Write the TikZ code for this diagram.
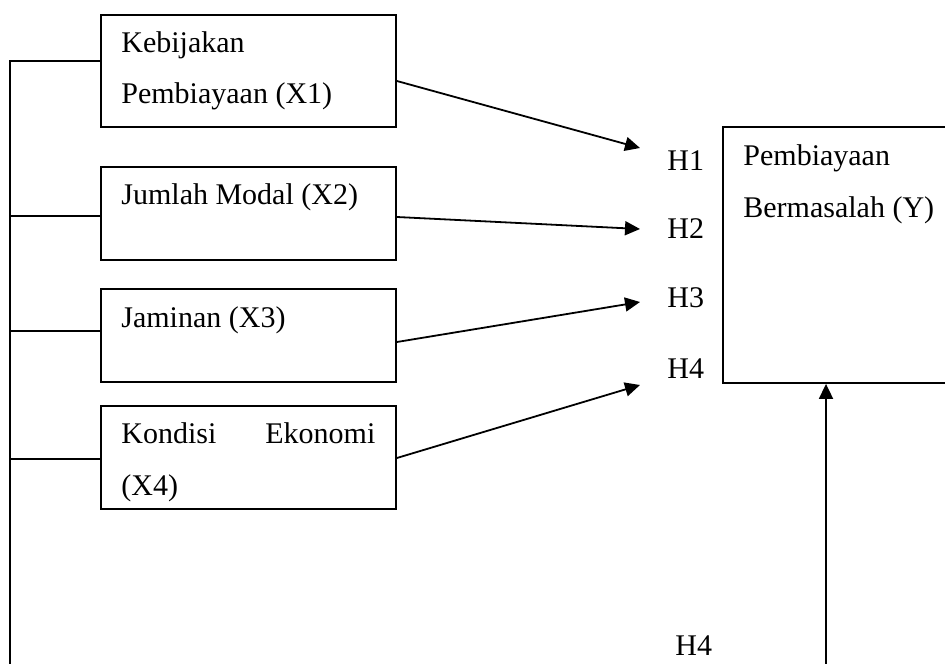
\documentclass[tikz,border=0pt]{standalone}
\usepackage{fontspec}
\setmainfont{Liberation Serif}
\usetikzlibrary{arrows.meta}
\begin{document}
\begin{tikzpicture}[x=0.5pt,y=-0.5pt,
  varbox/.style={draw,line width=0.9pt,rectangle,inner sep=0pt,minimum width=147.5pt},
  lbl/.style={anchor=base west,inner sep=0pt,font=\fontsize{15pt}{18pt}\selectfont},
  conn/.style={line width=0.9pt},
  arr/.style={line width=0.9pt,-{Triangle[length=7.5pt,width=7pt]}}]
\useasboundingbox (0,0) rectangle (945,663);
\clip (0,0) rectangle (945,663);
% boxes
\node[varbox,minimum height=56pt] (x1) at (248.5,71) {};
\node[varbox,minimum height=46.5pt] (x2) at (248.5,213.5) {};
\node[varbox,minimum height=46.5pt] (x3) at (248.5,335.5) {};
\node[varbox,minimum height=51.5pt] (x4) at (248.5,457.5) {};
\node[draw,line width=0.9pt,rectangle,inner sep=0pt,minimum width=118.5pt,minimum height=128pt] (y) at (841.5,255) {};
% texts
\node[lbl] (t1a) at (121,53) {Kebijakan};
\node[lbl] (t1b) at (121,104) {Pembiayaan (X1)};
\node[lbl] (t2) at (121,205) {Jumlah Modal (X2)};
\node[lbl] (t3) at (121,327) {Jaminan (X3)};
\node[lbl] (t4a) at (121,443) {\makebox[127pt][s]{Kondisi\hfill Ekonomi}};
\node[lbl] (t4b) at (121,495) {(X4)};
\node[lbl] (ty1) at (743,165) {Pembiayaan};
\node[lbl] (ty2) at (743,217) {Bermasalah (Y)};
\node[lbl] (h1) at (667,170) {H1};
\node[lbl] (h2) at (667,238) {H2};
\node[lbl] (h3) at (667,307) {H3};
\node[lbl] (h4) at (667,378) {H4};
\node[lbl] (h4b) at (675,655) {H4};
% coordinates
\coordinate (lt) at (10,61);
\coordinate (lb) at (10,670);
\coordinate (a1) at (640,148);
\coordinate (a2) at (640,229);
\coordinate (a3) at (640,302);
\coordinate (a4) at (640,385);
\coordinate (b) at (826,670);
% left bracket line
\draw[conn] ([yshift=5pt]x1.west) -- (lt) -- (lb);
\draw[conn] ([yshift=-1.25pt]x2.west) -- ([yshift=-1.25pt]x2.west -| lt);
\draw[conn] ([yshift=2.25pt]x3.west) -- ([yshift=2.25pt]x3.west -| lt);
\draw[conn] ([yshift=-0.75pt]x4.west) -- ([yshift=-0.75pt]x4.west -| lt);
% arrows
\draw[arr] ([yshift=-5pt]x1.east) -- (a1);
\draw[arr] ([yshift=-1.75pt]x2.east) -- (a2);
\draw[arr] ([yshift=-3.25pt]x3.east) -- (a3);
\draw[arr] ([yshift=-0.25pt]x4.east) -- (a4);
\draw[arr] (b) -- (y.south -| b);
\end{tikzpicture}
\end{document}
